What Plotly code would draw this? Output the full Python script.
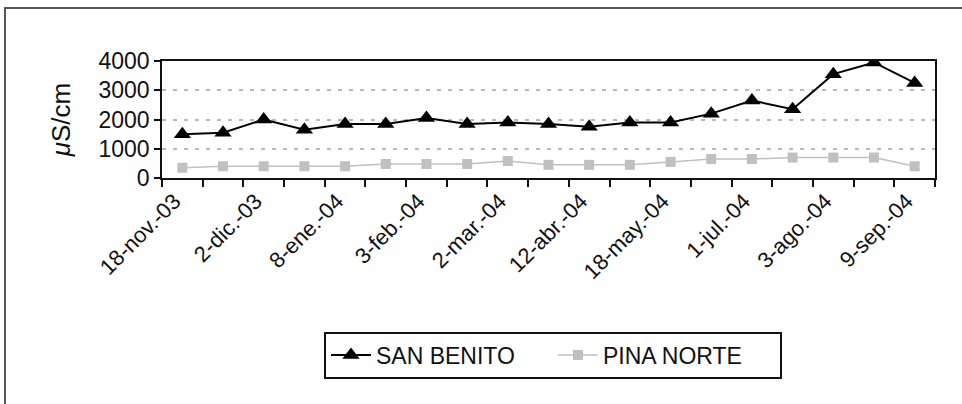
import plotly.graph_objects as go

# ---- data ----
x_index = list(range(19))
tick_labels = ["18-nov.-03", "2-dic.-03", "8-ene.-04", "3-feb.-04", "2-mar.-04",
               "12-abr.-04", "18-may.-04", "1-jul.-04", "3-ago.-04", "9-sep.-04"]
tick_positions = [0, 2, 4, 6, 8, 10, 12, 14, 16, 18]
san_benito = [1500, 1550, 2000, 1650, 1850, 1850, 2050, 1850, 1900, 1850,
              1750, 1900, 1900, 2200, 2650, 2350, 3550, 3950, 3250]
pina_norte = [350, 400, 400, 400, 400, 480, 480, 480, 580, 450,
              450, 450, 550, 650, 650, 700, 700, 700, 400]
y_ticks = [0, 1000, 2000, 3000, 4000]

W, H = 962, 404
L, R, T, B = 162, 27, 61, 226
pw, ph = W - L - R, H - T - B

def px_x(p):
    return (p - L) / pw

def px_y(p):
    return (H - B - p) / ph

FONT = "Liberation Sans, Arial, sans-serif"

fig = go.Figure()
fig.add_trace(go.Scatter(
    x=x_index, y=san_benito, name="SAN BENITO", mode="lines+markers",
    line=dict(color="#000000", width=2),
    marker=dict(symbol="triangle-up", size=15, color="#000000"),
))
fig.add_trace(go.Scatter(
    x=x_index, y=pina_norte, name="PINA NORTE", mode="lines+markers",
    line=dict(color="#c0c0c0", width=1.5),
    marker=dict(symbol="square", size=10, color="#c0c0c0"),
))

fig.update_layout(
    width=W, height=H,
    margin=dict(l=L, r=R, t=T, b=B, pad=0),
    paper_bgcolor="white", plot_bgcolor="white",
    font=dict(family=FONT, size=23, color="#111111"),
    showlegend=True,
    legend=dict(
        orientation="h", x=px_x(553), xanchor="center", y=px_y(355), yanchor="middle",
        bordercolor="#111111", borderwidth=2, bgcolor="white",
        font=dict(family=FONT, size=23, color="#111111"),
        itemwidth=40, tracegroupgap=0,
        entrywidth=172, entrywidthmode="pixels",
    ),
    xaxis=dict(
        range=[-0.5, 18.5], tickmode="array", tickvals=tick_positions,
        ticktext=tick_labels, tickangle=-45, ticks="", showgrid=False,
        zeroline=False, showline=True, linecolor="#111111", linewidth=1.5,
        mirror=True, tickfont=dict(size=22), ticklabelshift=-8,
        minor=dict(tickmode="array", tickvals=[i - 0.5 for i in range(20)],
                   ticks="outside", ticklen=7, tickwidth=1.5,
                   tickcolor="#111111", showgrid=False),
    ),
    yaxis=dict(
        range=[0, 4000], tickmode="array", tickvals=y_ticks,
        ticks="outside", ticklen=6, tickwidth=1.5, tickcolor="#111111",
        showgrid=True, gridcolor="#b8b8b8", gridwidth=1.5, griddash="4px,7px",
        zeroline=False, showline=True, linecolor="#111111", linewidth=1.5,
        mirror=True, tickfont=dict(size=23),
        title=dict(text="<i>μ</i>S/cm", font=dict(size=26), standoff=20),
    ),
    shapes=[dict(
        type="rect", xref="paper", yref="paper",
        x0=px_x(5), x1=px_x(968), y0=px_y(8), y1=px_y(410),
        line=dict(color="#555555", width=2), fillcolor="rgba(0,0,0,0)",
        layer="below",
    )],
)

fig.write_html("out.html", config={"displayModeBar": False},
               post_script="document.body.style.margin='0';document.body.style.overflow='hidden';")
